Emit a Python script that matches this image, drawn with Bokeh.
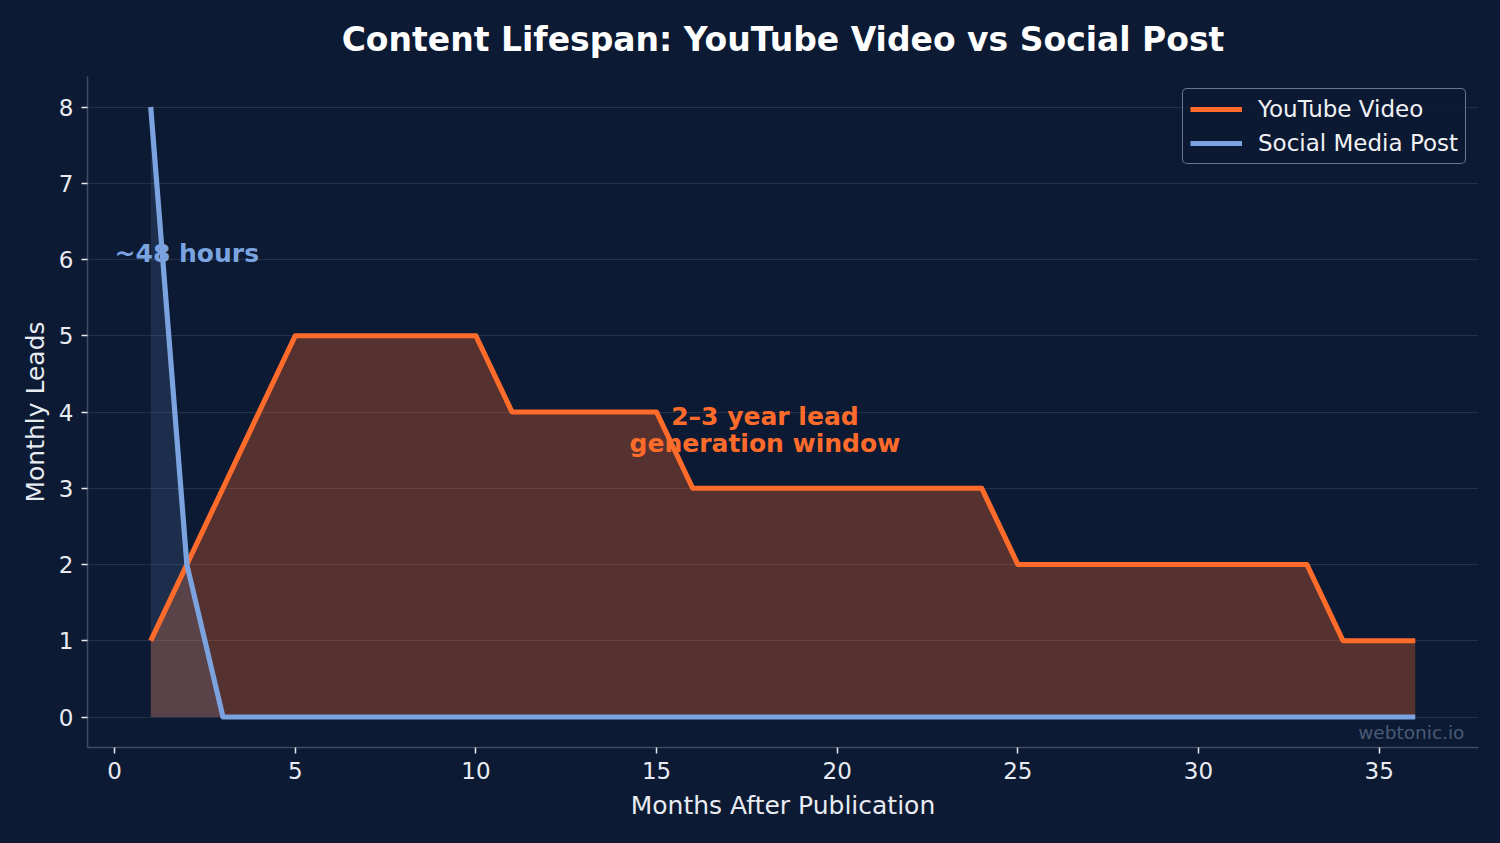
from bokeh.plotting import figure
from bokeh.models import Range1d, Legend, LegendItem
from bokeh.core.properties import value
from bokeh.embed import file_html
from bokeh.resources import INLINE

months = list(range(1, 37))
youtube_leads = [1, 2, 3, 4, 5, 5, 5, 5, 5, 5, 4, 4, 4, 4, 4, 3, 3, 3,
                 3, 3, 3, 3, 3, 3, 2, 2, 2, 2, 2, 2, 2, 2, 2, 1, 1, 1]
social_leads = [8, 2, 0, 0, 0, 0, 0, 0, 0, 0, 0, 0, 0, 0, 0, 0, 0, 0,
                0, 0, 0, 0, 0, 0, 0, 0, 0, 0, 0, 0, 0, 0, 0, 0, 0, 0]
x_ticks = [0, 5, 10, 15, 20, 25, 30, 35]
y_ticks = [0, 1, 2, 3, 4, 5, 6, 7, 8]

BG = "#0c1a33"
ORANGE = "#ff6b2b"
BLUE = "#7aa3e0"
SPINE = "#3d4d66"
FONT = "DejaVu Sans"

p = figure(width=1500, height=843, output_backend="svg", toolbar_location=None,
           x_range=Range1d(-0.75, 37.75), y_range=Range1d(-0.4, 8.4),
           min_border_left=87, min_border_right=22, min_border_top=76,
           min_border_bottom=96, outline_line_color=None)
p.background_fill_color = BG
p.border_fill_color = BG
p.outline_line_alpha = 0
p.outline_line_width = 0

p.title.text = "Content Lifespan: YouTube Video vs Social Post"
p.title.text_font = FONT
p.title.text_font_size = "33px"
p.title.text_font_style = "bold"
p.title.text_color = "#ffffff"
p.title.align = "center"
p.title.standoff = 35

for ax in (p.xaxis[0], p.yaxis[0]):
    ax.axis_line_color = SPINE
    ax.axis_line_width = 1.5
    ax.major_tick_line_color = "#e8ecf2"
    ax.major_tick_line_width = 1.5
    ax.major_tick_out = 6
    ax.major_tick_in = 0
    ax.minor_tick_line_color = None
    ax.major_label_text_font = FONT
    ax.major_label_text_font_size = "23px"
    ax.major_label_text_color = "#e8ecf2"
    ax.axis_label_text_font = FONT
    ax.axis_label_text_font_size = "25px"
    ax.axis_label_text_font_style = "normal"
    ax.axis_label_text_color = "#e8ecf2"

p.xaxis.ticker = x_ticks
p.yaxis.ticker = y_ticks
p.xaxis.axis_label = "Months After Publication"
p.yaxis.axis_label = "Monthly Leads"
p.xaxis.major_label_standoff = 8
p.yaxis.major_label_standoff = 8
p.xaxis.axis_label_standoff = 9
p.yaxis.axis_label_standoff = 6

p.xgrid.grid_line_color = None
p.ygrid.grid_line_color = "#ffffff"
p.ygrid.grid_line_alpha = 0.1
p.ygrid.grid_line_width = 1.2

p.varea(x=months, y1=0, y2=youtube_leads, fill_color=ORANGE, fill_alpha=0.3)
p.varea(x=months, y1=0, y2=social_leads, fill_color=BLUE, fill_alpha=0.15)
yt = p.line(months, youtube_leads, line_color=ORANGE, line_width=5.2, line_join="round")
sm = p.line(months, social_leads, line_color=BLUE, line_width=5.2, line_join="round")

p.text(x=[0], y=[6.08], text=["~48 hours"], text_font=value(FONT), text_font_size="25px",
       text_font_style="bold", text_color=BLUE, text_align="left",
       text_baseline="alphabetic")
p.text(x=[18, 18], y=[3.945, 3.59], text=["2\u20133 year lead", "generation window"],
       text_font=value(FONT), text_font_size="25px",
       text_font_style="bold", text_color=ORANGE, text_align="center",
       text_baseline="alphabetic")
p.text(x=[37.36], y=[-0.34], text=["webtonic.io"], text_font=value(FONT),
       text_font_size="18.5px", text_color="#4a5a75", text_align="right",
       text_baseline="bottom")

legend = Legend(items=[LegendItem(label="YouTube Video", renderers=[yt]),
                       LegendItem(label="Social Media Post", renderers=[sm])],
                location="top_right")
legend.label_text_font = FONT
legend.label_text_font_size = "23px"
legend.label_text_color = "#f0f2f5"
legend.background_fill_color = BG
legend.background_fill_alpha = 0.9
legend.border_line_color = "#cfd4da"
legend.border_line_width = 1.5
if "border_radius" in legend.properties():
    legend.border_radius = 5
legend.glyph_width = 52
legend.glyph_height = 22
legend.label_standoff = 16
legend.padding = 7
legend.spacing = 8
legend.margin = 12
p.add_layout(legend)

html = file_html(p, INLINE)
html = html.replace("<head>", "<head><style>html,body{margin:0;padding:0;background:#0c1a33;}</style>", 1)
open("out.html", "w").write(html)
